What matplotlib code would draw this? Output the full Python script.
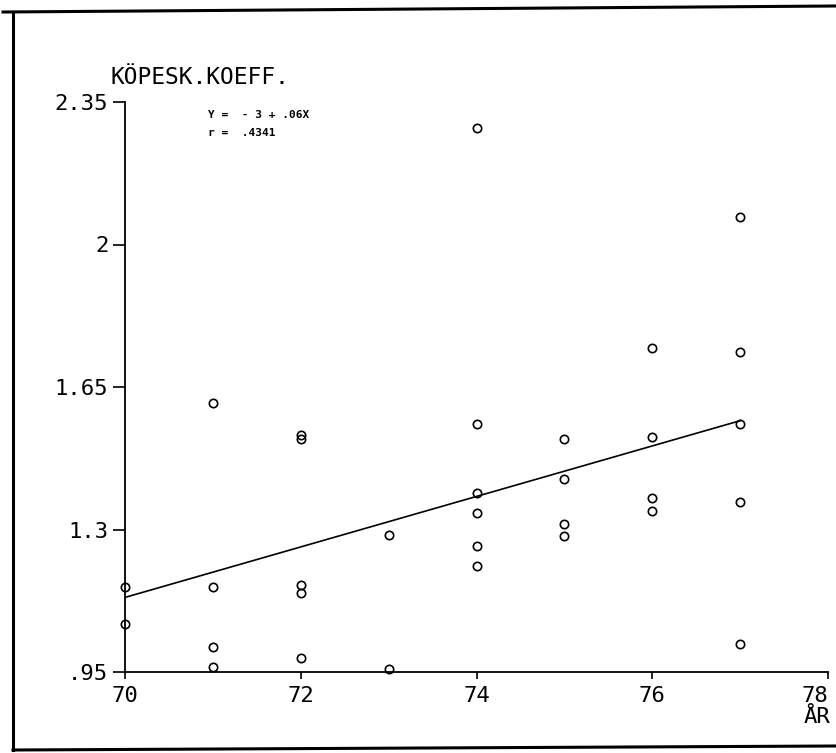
import matplotlib.pyplot as plt
from matplotlib.lines import Line2D
import numpy as np

# år (x) och köpeskillingskoefficient (y)
years = [70, 70,
         71, 71, 71, 71,
         72, 72, 72, 72, 72,
         73, 73,
         74, 74, 74, 74, 74, 74,
         75, 75, 75, 75,
         76, 76, 76, 76,
         77, 77, 77, 77, 77]
coeffs = [1.159, 1.068,
          1.611, 1.159, 1.011, 0.962,
          1.532, 1.522, 1.164, 1.144, 0.984,
          1.286, 0.957,
          2.286, 1.559, 1.390, 1.340, 1.259, 1.210,
          1.522, 1.424, 1.313, 1.284,
          1.746, 1.527, 1.377, 1.345,
          2.067, 1.736, 1.559, 1.367, 1.019]

x_ticks = [70, 72, 74, 76, 78]
x_labels = ["70", "72", "74", "76", "78"]
y_ticks = [0.95, 1.3, 1.65, 2.0, 2.35]
y_labels = [".95", "1.3", "1.65", "2", "2.35"]

eq_text = "Y =  - 3 + .06X"
r_text = "r =  .4341"

W, H = 836, 753
fig = plt.figure(figsize=(W / 100, H / 100), dpi=100)
ax = fig.add_axes([125 / W, 1 - 672 / H, (828 - 125) / W, (672 - 102) / H])

mono = "DejaVu Sans Mono"

# punkterna
ax.plot(years, coeffs, "o", mfc="none", mec="black", ms=6, mew=1.2,
        clip_on=False, zorder=3)

# regressionslinjen
slope, intercept = np.polyfit(years, coeffs, 1)
xs = np.array([min(years), max(years)])
ax.plot(xs, intercept + slope * xs, color="black", lw=1.2)

ax.set_xlim(70, 78)
ax.set_ylim(0.95, 2.35)
ax.set_xticks(x_ticks)
ax.set_xticklabels(x_labels, family=mono, fontsize=16)
ax.set_yticks(y_ticks)
ax.set_yticklabels(y_labels, family=mono, fontsize=16)
# sista etiketten vid kanten, som i originalet
ax.get_xticklabels()[-1].set_horizontalalignment("right")

for s in ["top", "right"]:
    ax.spines[s].set_visible(False)
for s in ["left", "bottom"]:
    ax.spines[s].set_linewidth(1.3)
ax.tick_params(axis="y", direction="out", length=9, width=1.2, pad=3)
ax.tick_params(axis="x", direction="out", length=5, width=1.2, pad=5)

fig.text(110 / W, 1 - 78 / H, "KÖPESK.KOEFF.", family=mono, fontsize=16.5,
         ha="left", va="center")
fig.text(817 / W, 1 - 717 / H, "ÅR", family=mono, fontsize=16,
         ha="center", va="center")
fig.text(208 / W, 1 - 115 / H, eq_text, family=mono, fontsize=8,
         weight="bold", ha="left", va="center")
fig.text(208 / W, 1 - 133 / H, r_text, family=mono, fontsize=8,
         weight="bold", ha="left", va="center")

# ram runt bilden
frame = [([3 / W, 1.0], [1 - 12 / H, 1 - 6 / H]),
         ([13 / W, 13 / W], [1 - 12 / H, 1 - 750 / H]),
         ([13 / W, 1.0], [1 - 750 / H, 1 - 746 / H])]
for fx, fy in frame:
    fig.add_artist(Line2D(fx, fy, color="black", lw=2.2))

fig.savefig("out.png", dpi=100)
